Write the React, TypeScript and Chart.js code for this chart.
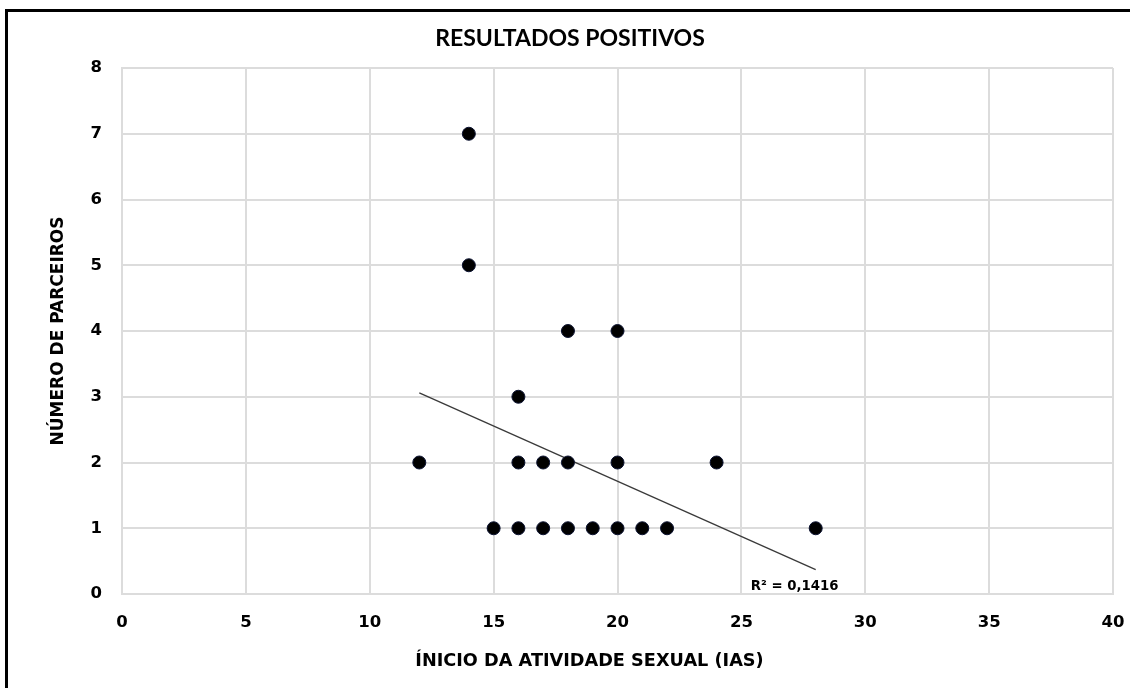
import React, { useEffect, useRef } from "react";
import { Chart, registerables } from "chart.js";

Chart.register(...registerables);

// Age at first sexual intercourse (IAS) and number of partners, one entry per respondent
const iasAges = [14, 14, 18, 20, 16, 12, 16, 17, 18, 20, 24, 15, 16, 17, 18, 19, 20, 21, 22, 28];
const partnerCounts = [7, 5, 4, 4, 3, 2, 2, 2, 2, 2, 2, 1, 1, 1, 1, 1, 1, 1, 1, 1];

// Linear trend line endpoints
const trendAges = [12, 28];
const trendPartners = [3.06, 0.37];
const trendLabel = "R² = 0,1416";

const chartTitle = "RESULTADOS POSITIVOS";
const xAxisTitle = "ÍNICIO DA ATIVIDADE SEXUAL (IAS)";
const yAxisTitle = "NÚMERO DE PARCEIROS";

const xRange = { min: 0, max: 40, step: 5 };
const yRange = { min: 0, max: 8, step: 1 };

const GRID = "#dcdcdc";
const TICK_FONT = { family: "'DejaVu Sans'", size: 16.5, weight: "bold" as const };

const captionPlugin = {
  id: "captions",
  afterDraw(chart: any) {
    const { ctx } = chart;
    const xs = chart.scales.x;
    const ys = chart.scales.y;
    ctx.save();
    ctx.fillStyle = "#000";
    // x axis caption
    ctx.font = "bold 17.7px 'DejaVu Sans'";
    ctx.textAlign = "center";
    ctx.textBaseline = "middle";
    ctx.fillText(xAxisTitle, 589.5, 661);
    // trend line R² note, placed below the end of the line
    ctx.font = "bold 13.3px 'DejaVu Sans'";
    ctx.textAlign = "left";
    const lx = xs.getPixelForValue(trendAges[1]) - 65;
    const ly = ys.getPixelForValue(0) - 7;
    ctx.fillText(trendLabel, lx, ly);
    ctx.restore();
  },
};

export default function App() {
  const canvasRef = useRef<HTMLCanvasElement | null>(null);

  useEffect(() => {
    document.body.style.margin = "0";
    const canvas = canvasRef.current;
    if (!canvas) return;

    const points = iasAges.map((x, i) => ({ x, y: partnerCounts[i] }));
    const trend = trendAges.map((x, i) => ({ x, y: trendPartners[i] }));

    const chart = new Chart(canvas, {
      type: "scatter",
      data: {
        datasets: [
          {
            type: "line",
            data: trend,
            borderColor: "#3a3a3a",
            borderWidth: 1.3,
            pointRadius: 0,
            fill: false,
            order: 2,
          } as any,
          {
            data: points,
            backgroundColor: "#000000",
            borderColor: "#0b1230",
            borderWidth: 1,
            pointRadius: 6.5,
            order: 1,
          },
        ],
      },
      options: {
        responsive: false,
        animation: false,
        events: [],
        layout: { padding: { top: 0, left: 27, right: 17, bottom: 0 } },
        plugins: {
          legend: { display: false },
          tooltip: { enabled: false },
          title: {
            display: true,
            text: chartTitle,
            color: "#000",
            font: { family: "Lato", size: 23, weight: "bold" },
            padding: { top: 24.8, bottom: 15.6 },
          },
        },
        scales: {
          x: {
            type: "linear",
            min: xRange.min,
            max: xRange.max,
            ticks: {
              stepSize: xRange.step,
              color: "#000",
              font: TICK_FONT,
              padding: 18.5,
              maxRotation: 0,
            },
            grid: { color: GRID, lineWidth: 2, drawTicks: false },
            border: { display: true, color: GRID, width: 2 },
            afterFit: (s: any) => {
              s.height = 94;
              s.paddingLeft = 0;
              s.paddingRight = 0;
            },
          },
          y: {
            type: "linear",
            min: yRange.min,
            max: yRange.max,
            ticks: {
              stepSize: yRange.step,
              color: "#000",
              font: TICK_FONT,
              padding: 20,
            },
            grid: { color: GRID, lineWidth: 2, drawTicks: false },
            border: { display: true, color: GRID, width: 2 },
            title: {
              display: true,
              text: yAxisTitle,
              color: "#000",
              font: { family: "'DejaVu Sans'", size: 17, weight: "bold" },
              padding: { top: 21, bottom: 0 },
            },
            afterFit: (s: any) => {
              s.width = 95;
            },
          },
        },
      },
      plugins: [captionPlugin],
    });

    return () => chart.destroy();
  }, []);

  return (
    <div style={{ position: "relative", width: 1130, height: 688, overflow: "hidden", background: "#fff" }}>
      <canvas ref={canvasRef} width={1130} height={688} style={{ display: "block" }} />
      <div
        style={{
          position: "absolute",
          left: 5,
          top: 9,
          width: 1125,
          height: 679,
          borderTop: "3px solid #000",
          borderLeft: "3px solid #000",
          boxSizing: "border-box",
          pointerEvents: "none",
        }}
      />
    </div>
  );
}
